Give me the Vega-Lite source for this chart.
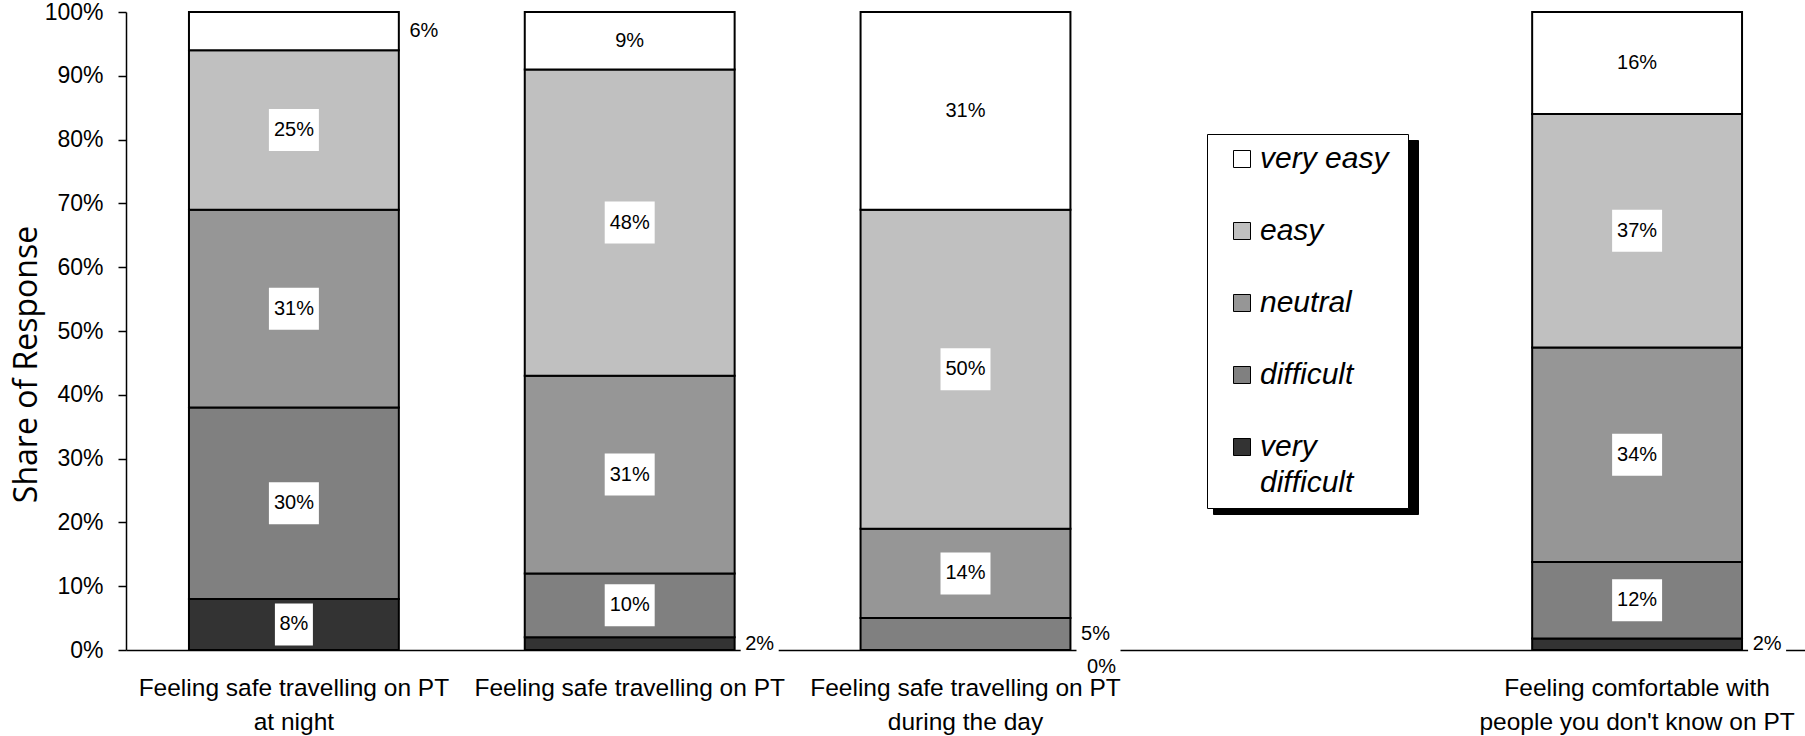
{
  "$schema": "https://vega.github.io/schema/vega-lite/v6.json",
  "width": 1679,
  "height": 638,
  "autosize": {"type": "none"},
  "padding": {"left": 126, "top": 12, "right": 0, "bottom": 86},
  "background": "white",
  "config": {
    "view": {"stroke": null},
    "style": {"guide-label": {"lineHeight": 36}}
  },
  "data": {
    "values": [
      {"question": "Feeling safe travelling on PT|at night", "cat": "very difficult", "level": 1, "value": 0.08},
      {"question": "Feeling safe travelling on PT|at night", "cat": "difficult", "level": 2, "value": 0.30},
      {"question": "Feeling safe travelling on PT|at night", "cat": "neutral", "level": 3, "value": 0.31},
      {"question": "Feeling safe travelling on PT|at night", "cat": "easy", "level": 4, "value": 0.25},
      {"question": "Feeling safe travelling on PT|at night", "cat": "very easy", "level": 5, "value": 0.06},
      {"question": "Feeling safe travelling on PT", "cat": "very difficult", "level": 1, "value": 0.02},
      {"question": "Feeling safe travelling on PT", "cat": "difficult", "level": 2, "value": 0.10},
      {"question": "Feeling safe travelling on PT", "cat": "neutral", "level": 3, "value": 0.31},
      {"question": "Feeling safe travelling on PT", "cat": "easy", "level": 4, "value": 0.48},
      {"question": "Feeling safe travelling on PT", "cat": "very easy", "level": 5, "value": 0.09},
      {"question": "Feeling safe travelling on PT|during the day", "cat": "very difficult", "level": 1, "value": 0},
      {"question": "Feeling safe travelling on PT|during the day", "cat": "difficult", "level": 2, "value": 0.05},
      {"question": "Feeling safe travelling on PT|during the day", "cat": "neutral", "level": 3, "value": 0.14},
      {"question": "Feeling safe travelling on PT|during the day", "cat": "easy", "level": 4, "value": 0.50},
      {"question": "Feeling safe travelling on PT|during the day", "cat": "very easy", "level": 5, "value": 0.31},
      {"question": "Feeling comfortable with|people you don't know on PT", "cat": "very difficult", "level": 1, "value": 0.018},
      {"question": "Feeling comfortable with|people you don't know on PT", "cat": "difficult", "level": 2, "value": 0.12},
      {"question": "Feeling comfortable with|people you don't know on PT", "cat": "neutral", "level": 3, "value": 0.336},
      {"question": "Feeling comfortable with|people you don't know on PT", "cat": "easy", "level": 4, "value": 0.366},
      {"question": "Feeling comfortable with|people you don't know on PT", "cat": "very easy", "level": 5, "value": 0.16}
    ]
  },
  "encoding": {
    "x": {
      "field": "question",
      "type": "nominal",
      "title": null,
      "scale": {
        "domain": [
          "Feeling safe travelling on PT|at night",
          "Feeling safe travelling on PT",
          "Feeling safe travelling on PT|during the day",
          " ",
          "Feeling comfortable with|people you don't know on PT"
        ],
        "paddingInner": 0.375,
        "paddingOuter": 0.1875
      },
      "axis": {
        "labelExpr": "split(datum.label, '|')",
        "labelAngle": 0,
        "ticks": false,
        "domainColor": "black",
        "domainWidth": 1.5,
        "labelFont": "Liberation Sans",
        "labelFontSize": 24.5,
        "labelColor": "black",
        "labelPadding": 26,
        "labelLineHeight": 34,
        "labelBaseline": "top",
        "labelLimit": 500
      }
    },
    "order": {"field": "level", "type": "quantitative"}
  },
  "layer": [
    {
      "mark": {"type": "bar", "strokeWidth": 2},
      "encoding": {
        "y": {
          "field": "value",
          "type": "quantitative",
          "stack": "zero",
          "title": "Share  of Response",
          "scale": {"domain": [0, 1], "nice": false},
          "axis": {
            "values": [0, 0.1, 0.2, 0.3, 0.4, 0.5, 0.6, 0.7, 0.8, 0.9, 1],
            "format": ".0%",
            "grid": false,
            "domainColor": "black",
            "domainWidth": 1.5,
            "tickColor": "black",
            "tickWidth": 1.5,
            "tickSize": 8,
            "labelFont": "Liberation Sans",
            "labelFontSize": 23,
            "labelColor": "black",
            "labelPadding": 15,
            "labelFlush": false,
            "labelOverlap": false,
            "titleFont": "Open Sans",
            "titleFontSize": 32,
            "titleFontWeight": "normal",
            "titleColor": "black",
            "titleAngle": -90,
            "titleX": -90,
            "titleY": 352,
            "titleAlign": "center",
            "titleBaseline": "alphabetic"
          }
        },
        "color": {
          "field": "cat",
          "type": "nominal",
          "scale": {
            "domain": ["very easy", "easy", "neutral", "difficult", "very difficult"],
            "range": ["#ffffff", "#c0c0c0", "#969696", "#808080", "#333333"]
          },
          "legend": {
            "orient": "none",
            "legendX": 1081,
            "legendY": 122,
            "title": " ",
            "titleOrient": "right",
            "titlePadding": 10,
            "titleFontSize": 10,
            "symbolType": "square",
            "symbolSize": 289,
            "symbolStrokeColor": "black",
            "symbolStrokeWidth": 1,
            "labelFont": "Liberation Sans",
            "labelFontSize": 30,
            "labelFontStyle": "italic",
            "labelColor": "black",
            "labelOffset": 3,
            "symbolOffset": 10,
            "padding": 10,
            "rowPadding": 42,
            "fillColor": "white",
            "strokeColor": "black",
            "labelLimit": 400,
            "labelExpr": "datum.label == 'very difficult' ? ['very', 'difficult'] : datum.label",
            "zindex": 2
          }
        },
        "stroke": {
          "field": "cat",
          "type": "nominal",
          "scale": {
            "domain": ["very difficult", "difficult", "neutral", "easy", "very easy"],
            "range": ["#000000", "#000000", "#000000", "#000000", "#000000"]
          },
          "legend": {
            "orient": "none",
            "legendX": 1087,
            "legendY": 128,
            "title": null,
            "symbolType": "M-1,-1H19.2V1H-1Z",
            "symbolSize": 289,
            "symbolFillColor": "black",
            "symbolStrokeColor": "black",
            "symbolStrokeWidth": 1,
            "labelFontSize": 1,
            "labelOffset": 0,
            "symbolOffset": 10,
            "padding": 10,
            "rowPadding": 61.5,
            "fillColor": "black",
            "strokeColor": "black",
            "labelExpr": "''",
            "zindex": 1
          }
        }
      }
    },
    {
      "mark": {"type": "point", "filled": true, "fill": "white", "opacity": 1, "strokeWidth": 0, "size": 1764},
      "encoding": {
        "y": {"field": "value", "type": "quantitative", "stack": "zero", "bandPosition": 0.5, "title": "Share  of Response"},
        "detail": {"field": "cat", "type": "nominal"},
        "shape": {
          "condition": [
            {"test": "datum.value == 0", "value": "M5.571,-0.476H7.381V1.19H5.571Z"},
            {"test": "datum.value < 0.07", "value": "M5.285,-1H7.095V1H5.285Z"},
            {"test": "datum.value < 0.095", "value": "M-0.905,-1H0.905V1H-0.905Z"}
          ],
          "value": "M-1.19,-1H1.19V1H-1.19Z"
        }
      }
    },
    {
      "mark": {"type": "text", "font": "Liberation Sans", "fontSize": 20, "color": "black", "align": "center", "baseline": "middle"},
      "encoding": {
        "y": {"field": "value", "type": "quantitative", "stack": "zero", "bandPosition": 0.5, "title": "Share  of Response"},
        "detail": {"field": "cat", "type": "nominal"},
        "text": {"condition": {"test": "datum.value < 0.07", "value": ""}, "field": "value", "type": "quantitative", "format": ".0%"}
      }
    },
    {
      "mark": {"type": "text", "font": "Liberation Sans", "fontSize": 20, "color": "black", "align": "center", "baseline": "middle", "dx": 130},
      "encoding": {
        "y": {"field": "value", "type": "quantitative", "stack": "zero", "bandPosition": 0.5, "title": "Share  of Response"},
        "detail": {"field": "cat", "type": "nominal"},
        "text": {"condition": {"test": "datum.value >= 0.07 || datum.value == 0", "value": ""}, "field": "value", "type": "quantitative", "format": ".0%"}
      }
    },
    {
      "mark": {"type": "text", "font": "Liberation Sans", "fontSize": 20, "color": "black", "align": "center", "baseline": "middle", "dx": 136, "dy": 17},
      "encoding": {
        "y": {"field": "value", "type": "quantitative", "stack": "zero", "bandPosition": 0.5, "title": "Share  of Response"},
        "detail": {"field": "cat", "type": "nominal"},
        "text": {"condition": {"test": "datum.value != 0", "value": ""}, "field": "value", "type": "quantitative", "format": ".0%"}
      }
    }
  ]
}
